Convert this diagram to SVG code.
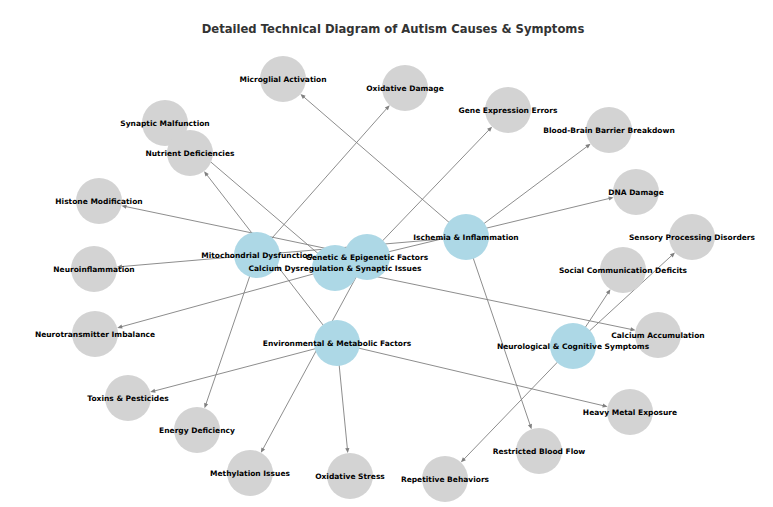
<svg xmlns="http://www.w3.org/2000/svg" width="773" height="507" viewBox="0 0 773 507">
<style>
.bg{fill:#ffffff}
.e{stroke:#808080;stroke-width:0.9;fill:none;marker-end:url(#ah)}
.c{fill:#add8e6}
.g{fill:#d3d3d3}
.t{font-family:"DejaVu Sans","Liberation Sans",sans-serif;font-weight:bold;font-size:7.5px;fill:#000;text-anchor:middle}
.title{font-family:"DejaVu Sans","Liberation Sans",sans-serif;font-weight:bold;font-size:11.6px;fill:#333333;text-anchor:middle}
</style>
<defs>
<marker id="ah" markerUnits="userSpaceOnUse" viewBox="-4 -4 8 8" markerWidth="8" markerHeight="8" refX="0" refY="0" orient="auto">
<path d="M-2,-2.1 L3,0 L-2,2.1 Z" fill="#808080"/>
</marker>
</defs>
<rect class="bg" x="0" y="0" width="773" height="507"/>
<text class="title" x="393" y="33">Detailed Technical Diagram of Autism Causes &amp; Symptoms</text>
<g id="edges">
<line class="e" x1="466" y1="237" x2="302.7" y2="96.0"/>
<line class="e" x1="257" y1="255" x2="387.7" y2="107.4"/>
<line class="e" x1="367" y1="257" x2="490.0" y2="128.8"/>
<line class="e" x1="466" y1="237" x2="588.2" y2="145.6"/>
<line class="e" x1="367" y1="257" x2="610.7" y2="198.1"/>
<line class="e" x1="573" y1="346" x2="672.8" y2="254.5"/>
<line class="e" x1="573" y1="346" x2="608.8" y2="291.7"/>
<line class="e" x1="335" y1="268" x2="632.6" y2="329.7"/>
<line class="e" x1="337" y1="343" x2="604.7" y2="406.0"/>
<line class="e" x1="466" y1="237" x2="530.6" y2="426.4"/>
<line class="e" x1="573" y1="346" x2="463.0" y2="460.2"/>
<line class="e" x1="337" y1="343" x2="347.5" y2="450.1"/>
<line class="e" x1="367" y1="257" x2="262.3" y2="450.2"/>
<line class="e" x1="257" y1="255" x2="205.5" y2="405.4"/>
<line class="e" x1="337" y1="343" x2="153.1" y2="391.3"/>
<line class="e" x1="335" y1="268" x2="120.1" y2="327.1"/>
<line class="e" x1="466" y1="237" x2="119.9" y2="266.7"/>
<line class="e" x1="367" y1="257" x2="124.4" y2="206.3"/>
<line class="e" x1="337" y1="343" x2="205.9" y2="173.6"/>
<line class="e" x1="335" y1="268" x2="184.8" y2="139.8"/>
</g>
<g id="n-microglial"><circle class="g" cx="283" cy="79" r="23"/></g>
<g id="n-oxdamage"><circle class="g" cx="405" cy="88" r="23"/></g>
<g id="n-geneexpr"><circle class="g" cx="508" cy="110" r="23"/></g>
<g id="n-bbb"><circle class="g" cx="609" cy="130" r="23"/></g>
<g id="n-dna"><circle class="g" cx="636" cy="192" r="23"/></g>
<g id="n-sensory"><circle class="g" cx="692" cy="237" r="23"/></g>
<g id="n-social"><circle class="g" cx="623" cy="270" r="23"/></g>
<g id="n-calcacc"><circle class="g" cx="658" cy="335" r="23"/></g>
<g id="n-heavymetal"><circle class="g" cx="630" cy="412" r="23"/></g>
<g id="n-bloodflow"><circle class="g" cx="539" cy="451" r="23"/></g>
<g id="n-repetitive"><circle class="g" cx="445" cy="479" r="23"/></g>
<g id="n-oxstress"><circle class="g" cx="350" cy="476" r="23"/></g>
<g id="n-methylation"><circle class="g" cx="250" cy="473" r="23"/></g>
<g id="n-energy"><circle class="g" cx="197" cy="430" r="23"/></g>
<g id="n-toxins"><circle class="g" cx="128" cy="398" r="23"/></g>
<g id="n-neurotrans"><circle class="g" cx="95" cy="334" r="23"/></g>
<g id="n-neuroinfl"><circle class="g" cx="94" cy="269" r="23"/></g>
<g id="n-histone"><circle class="g" cx="99" cy="201" r="23"/></g>
<g id="n-synaptic"><circle class="g" cx="165" cy="123" r="23"/></g>
<g id="n-nutrient"><circle class="g" cx="190" cy="153" r="23"/></g>
<g id="n-mito"><circle class="c" cx="257" cy="255" r="23"/></g>
<g id="n-calcium"><circle class="c" cx="335" cy="268" r="23"/></g>
<g id="n-genetic"><circle class="c" cx="367" cy="257" r="23"/></g>
<g id="n-ischemia"><circle class="c" cx="466" cy="237" r="23"/></g>
<g id="n-env"><circle class="c" cx="337" cy="343" r="23"/></g>
<g id="n-neuro"><circle class="c" cx="573" cy="346" r="23"/></g>
<g id="labels">
<text class="t" x="283" y="81.7">Microglial Activation</text>
<text class="t" x="405" y="90.7">Oxidative Damage</text>
<text class="t" x="508" y="112.7">Gene Expression Errors</text>
<text class="t" x="609" y="132.7">Blood-Brain Barrier Breakdown</text>
<text class="t" x="636" y="194.7">DNA Damage</text>
<text class="t" x="692" y="239.7">Sensory Processing Disorders</text>
<text class="t" x="623" y="272.7">Social Communication Deficits</text>
<text class="t" x="658" y="337.7">Calcium Accumulation</text>
<text class="t" x="630" y="414.7">Heavy Metal Exposure</text>
<text class="t" x="539" y="453.7">Restricted Blood Flow</text>
<text class="t" x="445" y="481.7">Repetitive Behaviors</text>
<text class="t" x="350" y="478.7">Oxidative Stress</text>
<text class="t" x="250" y="475.7">Methylation Issues</text>
<text class="t" x="197" y="432.7">Energy Deficiency</text>
<text class="t" x="128" y="400.7">Toxins &amp; Pesticides</text>
<text class="t" x="95" y="336.7">Neurotransmitter Imbalance</text>
<text class="t" x="94" y="271.7">Neuroinflammation</text>
<text class="t" x="99" y="203.7">Histone Modification</text>
<text class="t" x="165" y="125.7">Synaptic Malfunction</text>
<text class="t" x="190" y="155.7">Nutrient Deficiencies</text>
<text class="t" x="257" y="257.7">Mitochondrial Dysfunction</text>
<text class="t" x="335" y="270.7">Calcium Dysregulation &amp; Synaptic Issues</text>
<text class="t" x="367" y="259.7">Genetic &amp; Epigenetic Factors</text>
<text class="t" x="466" y="239.7">Ischemia &amp; Inflammation</text>
<text class="t" x="337" y="345.7">Environmental &amp; Metabolic Factors</text>
<text class="t" x="573" y="348.7">Neurological &amp; Cognitive Symptoms</text>
</g>
</svg>
